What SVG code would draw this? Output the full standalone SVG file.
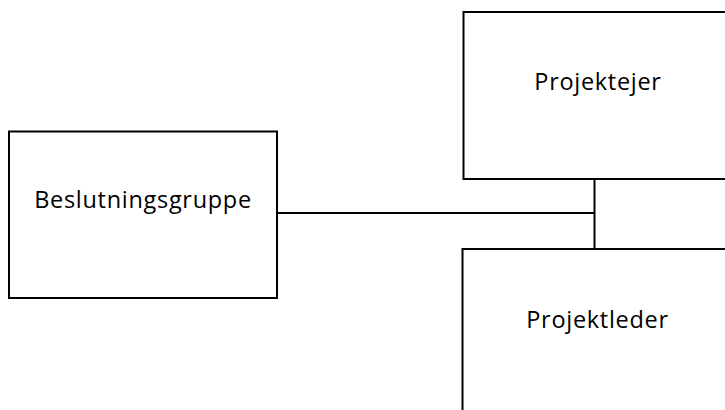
<svg xmlns="http://www.w3.org/2000/svg" width="725" height="410" viewBox="0 0 725 410">
<style>
.box{fill:#fff;stroke:#000;stroke-width:2}
.lbl{font-family:"Open Sans","Liberation Sans",sans-serif;font-size:23.5px;letter-spacing:0.7px;fill:#000;text-anchor:middle}
.con{stroke:#000;stroke-width:2;fill:none}
</style>
<rect width="725" height="410" fill="#fff"/>
<g id="connectors">
<line class="con" x1="277" y1="213" x2="594.5" y2="213"/>
<line class="con" x1="594.5" y1="175" x2="594.5" y2="249"/>
</g>
<g id="beslutningsgruppe">
<rect class="box" x="9" y="131.5" width="268" height="166.5"/>
<text class="lbl" x="143" y="208">Beslutningsgruppe</text>
</g>
<g id="projektejer">
<rect class="box" x="463.5" y="12" width="300" height="167"/>
<text class="lbl" x="598" y="90">Projektejer</text>
</g>
<g id="projektleder">
<rect class="box" x="462.5" y="249" width="300" height="200"/>
<text class="lbl" x="597.5" y="328">Projektleder</text>
</g>
</svg>
